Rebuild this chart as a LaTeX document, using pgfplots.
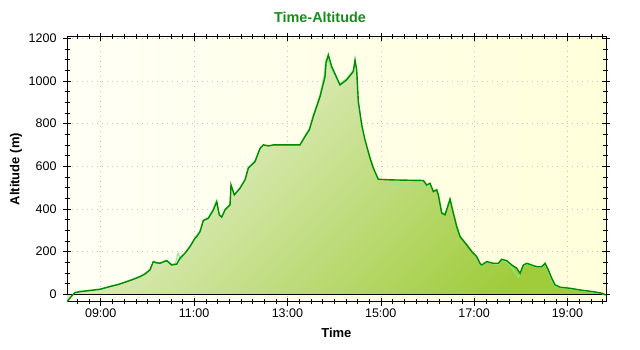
\documentclass[border=0pt]{standalone}
\usepackage{pgfplots}
\pgfplotsset{compat=1.18}
\usepackage{pgfplotstable}
\usepackage{fontspec}
\setmainfont{Liberation Sans}
\definecolor{darkline}{RGB}{0,140,0}
\definecolor{lightline}{RGB}{140,235,140}
\definecolor{titlegreen}{RGB}{26,140,26}
\definecolor{filltop}{RGB}{236,243,220}
\definecolor{fillbot}{RGB}{160,204,60}
\definecolor{bgleft}{RGB}{255,255,246}
\definecolor{bgright}{RGB}{255,255,218}
\definecolor{gridgray}{RGB}{195,195,195}

\pgfplotstableread{
h alt
8.278 -35
8.379 -8
8.449 7.5
8.556 12
8.75 17
8.985 23
9.199 36
9.40 47
9.557 59
9.70 70
9.842 82.5
9.95 95
10.056 114
10.127 153
10.20 147
10.270 145
10.35 152
10.414 157.5
10.521 137
10.628 141
10.699 169
10.806 192
10.913 223
11.021 262.5
11.057 270
11.128 293.5
11.198 345
11.306 356
11.413 395
11.486 434
11.541 372
11.593 361
11.663 395
11.771 419
11.792 512
11.863 465.5
11.985 497
12.093 536
12.163 591
12.307 622
12.414 683
12.484 700
12.60 695
12.698 700
13.270 700
13.377 739
13.470 770
13.555 833
13.699 926
13.806 1020
13.828 1083
13.877 1122
13.950 1067
14.128 981
14.271 1005
14.413 1044
14.449 1098
14.485 1051
14.520 903
14.593 794
14.663 723
14.770 638
14.841 591
14.948 539
15.199 536
15.913 533
15.985 512
16.056 520
16.127 481
16.200 489
16.234 465
16.307 380
16.378 372
16.485 445
16.555 380
16.628 317
16.699 270
16.842 231
16.950 200
17.057 176
17.127 145
17.164 137
17.271 153
17.412 145
17.520 145
17.592 164
17.700 157
17.807 137
17.914 122
17.985 98
18.055 137
18.128 145
18.235 137
18.342 129
18.449 129
18.520 145
18.591 114
18.664 75
18.735 44
18.842 33
19.056 28
19.270 20
19.555 12
19.735 5
19.82 -3
}\darkdata

\pgfplotstableread{
h alt
8.278 -35
8.379 -6
8.449 9
8.556 14
8.75 19
8.985 25
9.199 38
9.40 49
9.557 61
9.70 72
9.842 85
9.95 97
10.056 117
10.127 150
10.20 150
10.270 148
10.35 155
10.414 160
10.521 140
10.60 145
10.66 192
10.72 160
10.806 195
10.913 226
11.021 266
11.128 297
11.198 348
11.306 360
11.413 400
11.476 437
11.541 375
11.593 364
11.663 398
11.771 422
11.792 505
11.863 468
11.985 500
12.093 540
12.163 595
12.307 626
12.414 687
12.484 698
12.698 698
13.270 698
13.377 745
13.470 778
13.555 842
13.699 935
13.790 1030
13.815 1095
13.860 1110
13.930 1060
14.110 985
14.271 1012
14.413 1052
14.440 1085
14.475 1060
14.505 910
14.580 800
14.650 730
14.770 645
14.841 598
14.948 520
15.199 517
15.913 502
15.985 505
16.056 515
16.127 485
16.200 492
16.234 470
16.307 385
16.378 378
16.485 448
16.555 385
16.628 322
16.699 275
16.842 235
16.950 205
17.057 170
17.127 140
17.164 133
17.271 150
17.412 142
17.520 140
17.592 160
17.700 150
17.807 125
17.950 80
18.055 133
18.128 142
18.235 134
18.342 126
18.449 126
18.520 140
18.591 105
18.664 65
18.735 38
18.842 30
19.056 25
19.270 18
19.555 10
19.735 3
19.82 -6
}\lightdata

\begin{document}
\begin{tikzpicture}
\path[use as bounding box] (0,0) rectangle (640pt,350pt);
\node[font=\fontsize{14.4}{16}\selectfont\bfseries, text=titlegreen] at (320pt,333pt) {Time-Altitude};
\begin{axis}[
  at={(67pt,48.3pt)}, anchor=south west,
  scale only axis, width=538.7pt, height=265pt,
  xmin=8.278, xmax=19.82, ymin=-35, ymax=1207,
  axis background/.style={left color=bgleft, right color=bgright},
  xtick={9,11,13,15,17,19},
  xticklabels={09:00,11:00,13:00,15:00,17:00,19:00},
  minor xtick={8.5,8.75,...,19.8},
  ytick={0,200,400,600,800,1000,1200},
  minor ytick={0,50,...,1200},
  tick align=center,
  major tick length=8pt, minor tick length=5pt,
  every tick/.style={black, thin},
  xmajorgrids, ymajorgrids,
  major grid style={gridgray, dash pattern=on 1pt off 4pt},
  /pgf/number format/assume math mode=true,
  /pgf/number format/1000 sep={},
  ticklabel style={font=\fontsize{12.5}{14}\selectfont},
  yticklabel style={xshift=-3pt},
  xlabel={Time}, ylabel={Altitude (m)},
  label style={font=\fontsize{13}{15}\selectfont\bfseries},
  xlabel style={at={(axis description cs:0.5,0)}, anchor=center, yshift=-31pt},
  ylabel style={at={(axis description cs:-0.0947,0.5)}, anchor=center},
  axis line style={black},
  clip=true,
]
\addplot[draw=none, top color=filltop, bottom color=fillbot, shading angle=45] table[x=h,y=alt] {\darkdata} \closedcycle;
\addplot[black, thin, no marks] coordinates {(8.278,0) (19.82,0)};
\addplot[lightline, line width=1pt, no marks] table[x=h,y=alt] {\lightdata};
\addplot[darkline, line width=1.4pt, no marks] table[x=h,y=alt] {\darkdata};
\end{axis}
\end{tikzpicture}
\end{document}
